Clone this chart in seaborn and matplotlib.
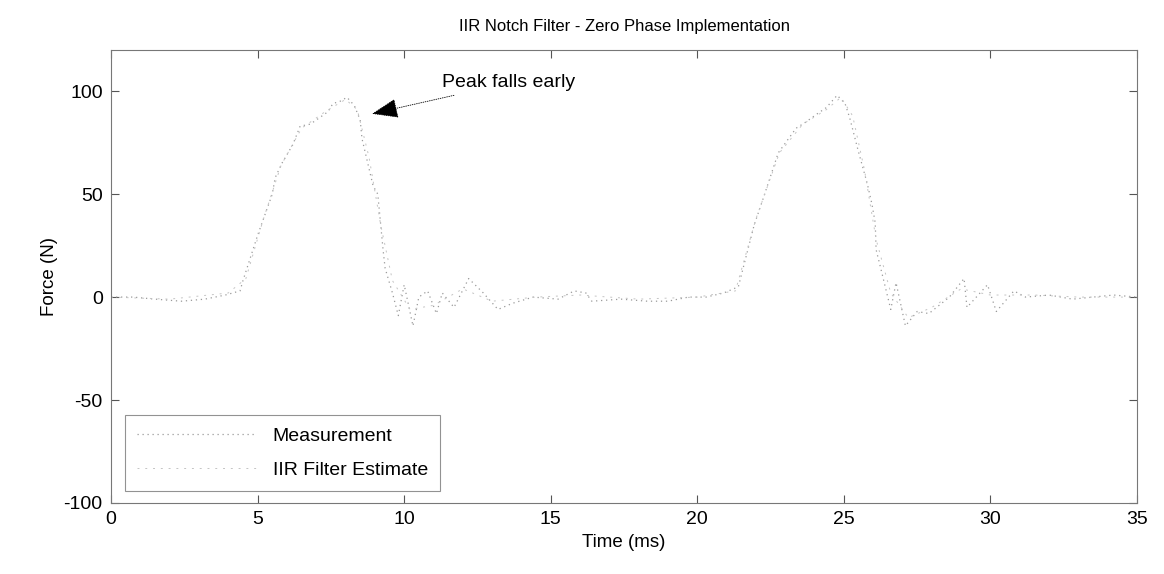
import numpy as np
import pandas as pd
import matplotlib
matplotlib.use("Agg")
import matplotlib.pyplot as plt
import seaborn as sns

time_ms = [0.0, 0.75, 1.5, 2.4, 3.2, 3.9, 4.4, 4.5, 5.0, 5.5, 5.6, 5.83, 6.2, 6.45, 6.8,
           7.1, 7.4, 7.57, 7.8, 8.05, 8.3, 8.5, 8.56, 8.94, 9.1, 9.28, 9.35, 9.6, 9.8,
           10.0, 10.3, 10.5, 10.8, 11.1, 11.3, 11.7, 12.2, 12.7, 13.2, 13.7, 14.4,
           15.25, 15.8, 16.2, 16.4, 17.4, 18.3, 19.0, 19.7, 20.3, 20.9, 21.4, 21.94,
           22.25, 22.76, 23.37, 23.7, 24.09, 24.4, 24.77, 25.04, 25.2, 25.49, 25.8,
           25.96, 26.07, 26.1, 26.24, 26.6, 26.78, 27.1, 27.5, 27.9, 28.6, 29.1, 29.2,
           29.9, 30.2, 30.8, 31.2, 32.0, 32.8, 33.5, 34.2, 35.0]
measurement = [0, 0, -1, -2, -1, 1, 3, 8, 30, 50, 58, 65, 74, 83, 84,
               87, 90, 94, 95, 97, 93, 86, 77, 54, 50, 23, 14, 2, -9,
               6, -14, 0, 3, -8, 2, -5, 9, 2, -6, -3, 0,
               -1, 3, 2, -2, -1, -2, -2, 0, 0, 2, 5, 35,
               48, 70, 82, 85, 89, 92, 98, 94, 87, 71, 55,
               45, 36, 23, 15, -6, 7, -14, -7, -8, 0, 9, -5,
               6, -7, 3, 0, 1, -1, 0, 1, 0]

# Zero-phase IIR notch estimate (smoother, overlapping the measurement)
time_filt = [0.0, 2.0, 4.0, 4.6, 5.2, 5.8, 6.5, 7.3, 8.0, 8.4, 8.8, 9.2, 9.6,
             10.2, 11.0, 12.0, 13.0, 14.5, 16.0, 18.0, 20.0, 21.3, 22.0, 22.8,
             23.6, 24.4, 24.9, 25.3, 25.7, 26.1, 26.6, 27.2, 28.0, 29.0, 30.0,
             31.5, 33.0, 35.0]
filter_est = [0, -1, 2, 9, 38, 64, 82, 90, 96, 91, 68, 35, 8,
              -6, -4, 4, -2, 0, 1, -1, 0, 3, 38, 70,
              84, 91, 97, 88, 62, 28, 2, -10, -5, 4, 1,
              1, 0, 0]

meas_df = pd.DataFrame({"t": time_ms, "f": measurement})
filt_df = pd.DataFrame({"t": time_filt, "f": filter_est})

sns.set_style("ticks")
plt.rcParams['font.family'] = ['Liberation Sans', 'DejaVu Sans']
plt.rcParams['axes.unicode_minus'] = False
plt.rcParams['text.color'] = 'black'
plt.rcParams['axes.labelcolor'] = 'black'
plt.rcParams['xtick.labelcolor'] = 'black'
plt.rcParams['ytick.labelcolor'] = 'black'

fig = plt.figure(figsize=(11.64, 5.74), dpi=100)
ax = fig.add_axes([0.0954, 0.1237, 0.8814, 0.7892])

sns.lineplot(data=meas_df, x="t", y="f", ax=ax, color="#9a9a9a", lw=0.9,
             linestyle=(0, (1, 3)), label="Measurement")
sns.lineplot(data=filt_df, x="t", y="f", ax=ax, color="#c4c4c4", lw=0.7,
             linestyle=(0, (2, 6)), label="IIR Filter Estimate")

ax.set_xlim(0, 35)
ax.set_ylim(-100, 120)
ax.set_xticks([0, 5, 10, 15, 20, 25, 30, 35])
ax.set_yticks([-100, -50, 0, 50, 100])
ax.tick_params(direction="in", top=True, right=True, labelsize=14, length=6,
               color="#555555", width=0.8, pad=6)
for s in ax.spines.values():
    s.set_color("#777777")
    s.set_linewidth(0.8)
    s.set_linestyle((0, (4, 1)))

ax.set_xlabel("Time (ms)", fontsize=13.5)
ax.set_ylabel("Force (N)", fontsize=13.5)
ax.set_title("IIR Notch Filter - Zero Phase Implementation", fontsize=12, pad=14)

ax.annotate("Peak falls early", xy=(8.9, 89), xytext=(11.3, 104),
            fontsize=14, va="center", ha="left",
            arrowprops=dict(arrowstyle="-|>,head_length=1.2,head_width=0.45",
                            color="black", lw=0.6, linestyle=":",
                            shrinkA=2, shrinkB=0))

leg = ax.legend(loc="lower left", fontsize=14, frameon=True, fancybox=False,
                handlelength=6.2, borderpad=0.6, labelspacing=0.85,
                bbox_to_anchor=(0.004, 0.006))
leg.get_frame().set_edgecolor("#777777")
leg.get_frame().set_linewidth(0.8)

fig.savefig("out.png", dpi=100)
